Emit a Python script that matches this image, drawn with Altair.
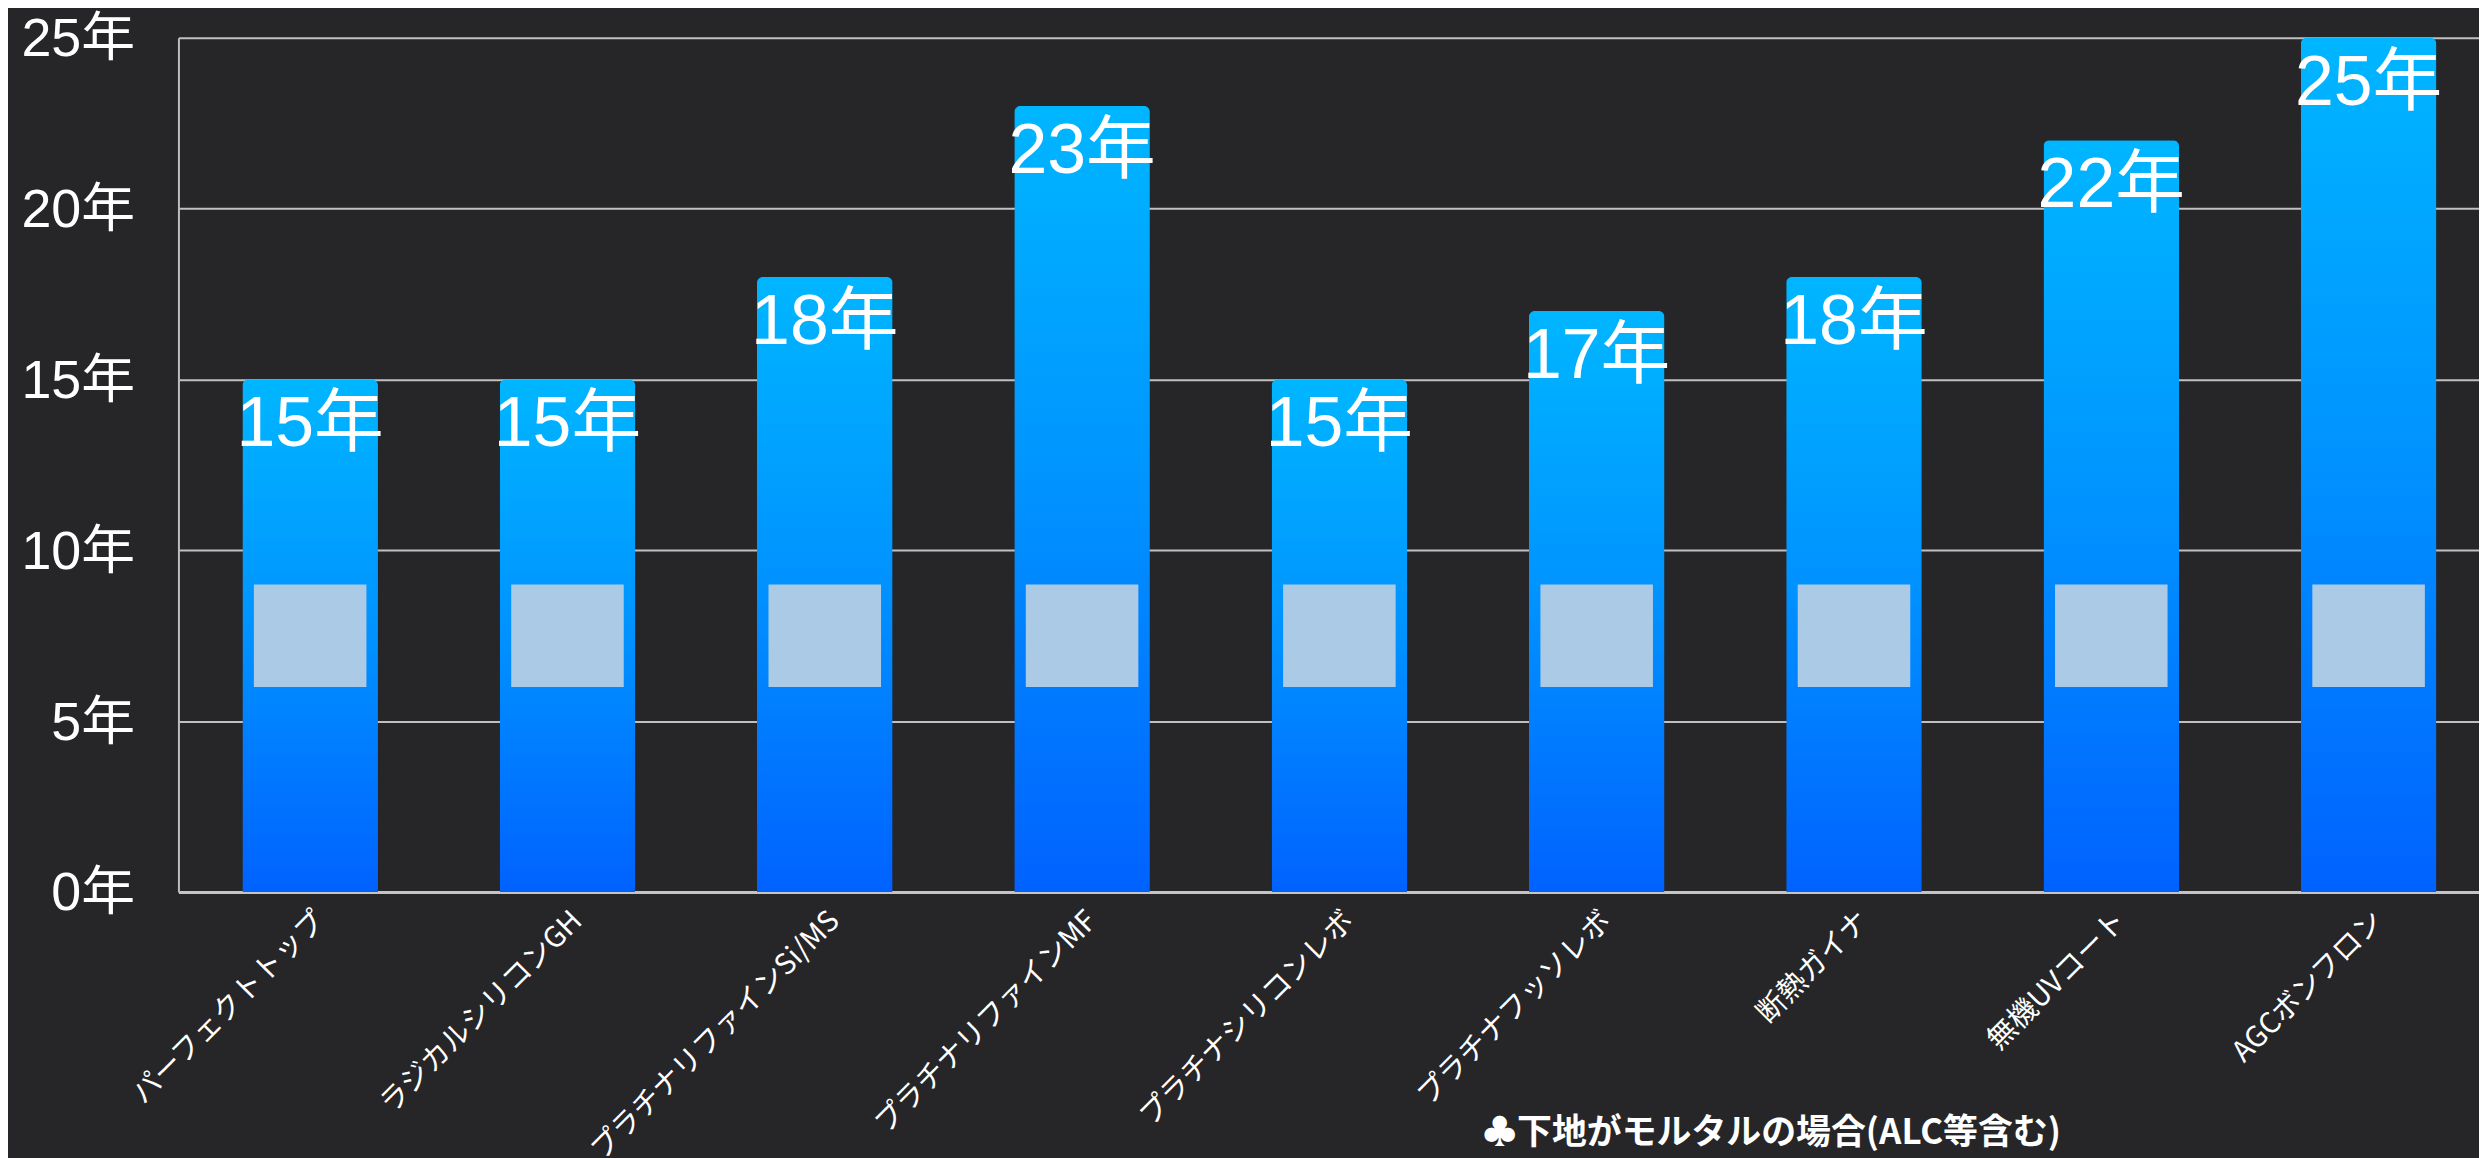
import altair as alt
import pandas as pd

# ---- data ----
products = [
    "パーフェクトトップ",
    "ラジカルシリコンGH",
    "プラチナリファインSi/MS",
    "プラチナリファインMF",
    "プラチナシリコンレボ",
    "プラチナフッソレボ",
    "断熱ガイナ",
    "無機UVコート",
    "AGCボンフロン",
]
years = [15, 15, 18, 23, 15, 17, 18, 22, 25]
mortar_low = [6, 6, 6, 6, 6, 6, 6, 6, 6]
mortar_high = [9, 9, 9, 9, 9, 9, 9, 9, 9]
y_ticks = [0, 5, 10, 15, 20, 25]
footnote = ["♣下地がモルタルの場合(ALC等含む)"]

df = pd.DataFrame({"product": products, "years": years, "low": mortar_low, "high": mortar_high})
df["label"] = [f"{v}年" for v in years]

NUM_FONT = "Liberation Sans, Noto Sans CJK JP"
JP_FONT = "Noto Sans CJK JP"

x_enc = alt.X(
    "product:N",
    sort=None,
    title=None,
    scale=alt.Scale(paddingInner=0.473, paddingOuter=0.207, align=0.6),
    axis=alt.Axis(
        labelAngle=-45,
        labelAlign="right",
        labelBaseline="top",
        labelPadding=14,
        labelFontSize=29,
        labelFont=JP_FONT,
        labelColor="white",
        labelLimit=0,
        ticks=False,
        tickSize=0,
        domain=True,
        domainColor="#c4c4c4",
        domainWidth=3,
        grid=False,
    ),
)

y_enc = alt.Y(
    "years:Q",
    title=None,
    scale=alt.Scale(domain=[0, 25], nice=False),
    axis=alt.Axis(
        values=y_ticks,
        labelExpr="datum.value + '年'",
        labelFontSize=54,
        labelFont=NUM_FONT,
        labelColor="white",
        labelPadding=44,
        labelOffset=2,
        ticks=False,
        tickSize=0,
        domain=True,
        domainColor="#bdbdbd",
        domainWidth=2,
        grid=True,
        gridColor="#c0c0c0",
        gridWidth=2,
    ),
)

base = alt.Chart(df)

bars = base.mark_bar(
    color=alt.Gradient(
        gradient="linear",
        x1=0, x2=0, y1=0, y2=1,
        stops=[
            alt.GradientStop(color="#00b6ff", offset=0),
            alt.GradientStop(color="#0092ff", offset=0.5),
            alt.GradientStop(color="#0062ff", offset=1),
        ],
    ),
    cornerRadiusTopLeft=6,
    cornerRadiusTopRight=6,
).encode(x=x_enc, y=y_enc)

mortar = base.mark_bar(color="#abcae6", width=alt.RelativeBandSize(0.83)).encode(
    x=alt.X("product:N", sort=None),
    y=alt.Y("low:Q"),
    y2="high:Q",
)

labels = base.mark_text(
    align="center", baseline="alphabetic", dy=67, fontSize=70,
    font=NUM_FONT, color="white",
).encode(x=alt.X("product:N", sort=None), y=alt.Y("years:Q"), text="label:N")

note = alt.Chart(pd.DataFrame({"t": footnote})).mark_text(
    align="left", baseline="middle", fontSize=35, fontWeight="bold",
    font=JP_FONT, color="white",
).encode(x=alt.value(1308), y=alt.value(1099), text="t:N")

chart = (
    alt.layer(bars, mortar, labels, note)
    .properties(
        width=2308,
        height=857,
        padding={"left": 171, "top": 28, "right": 0, "bottom": 265},
        autosize=alt.AutoSizeParams(type="none"),
        background="#262629",
    )
    .configure_view(stroke=None)
)

chart.save("out.html", embed_options={"renderer": "svg", "actions": False})
